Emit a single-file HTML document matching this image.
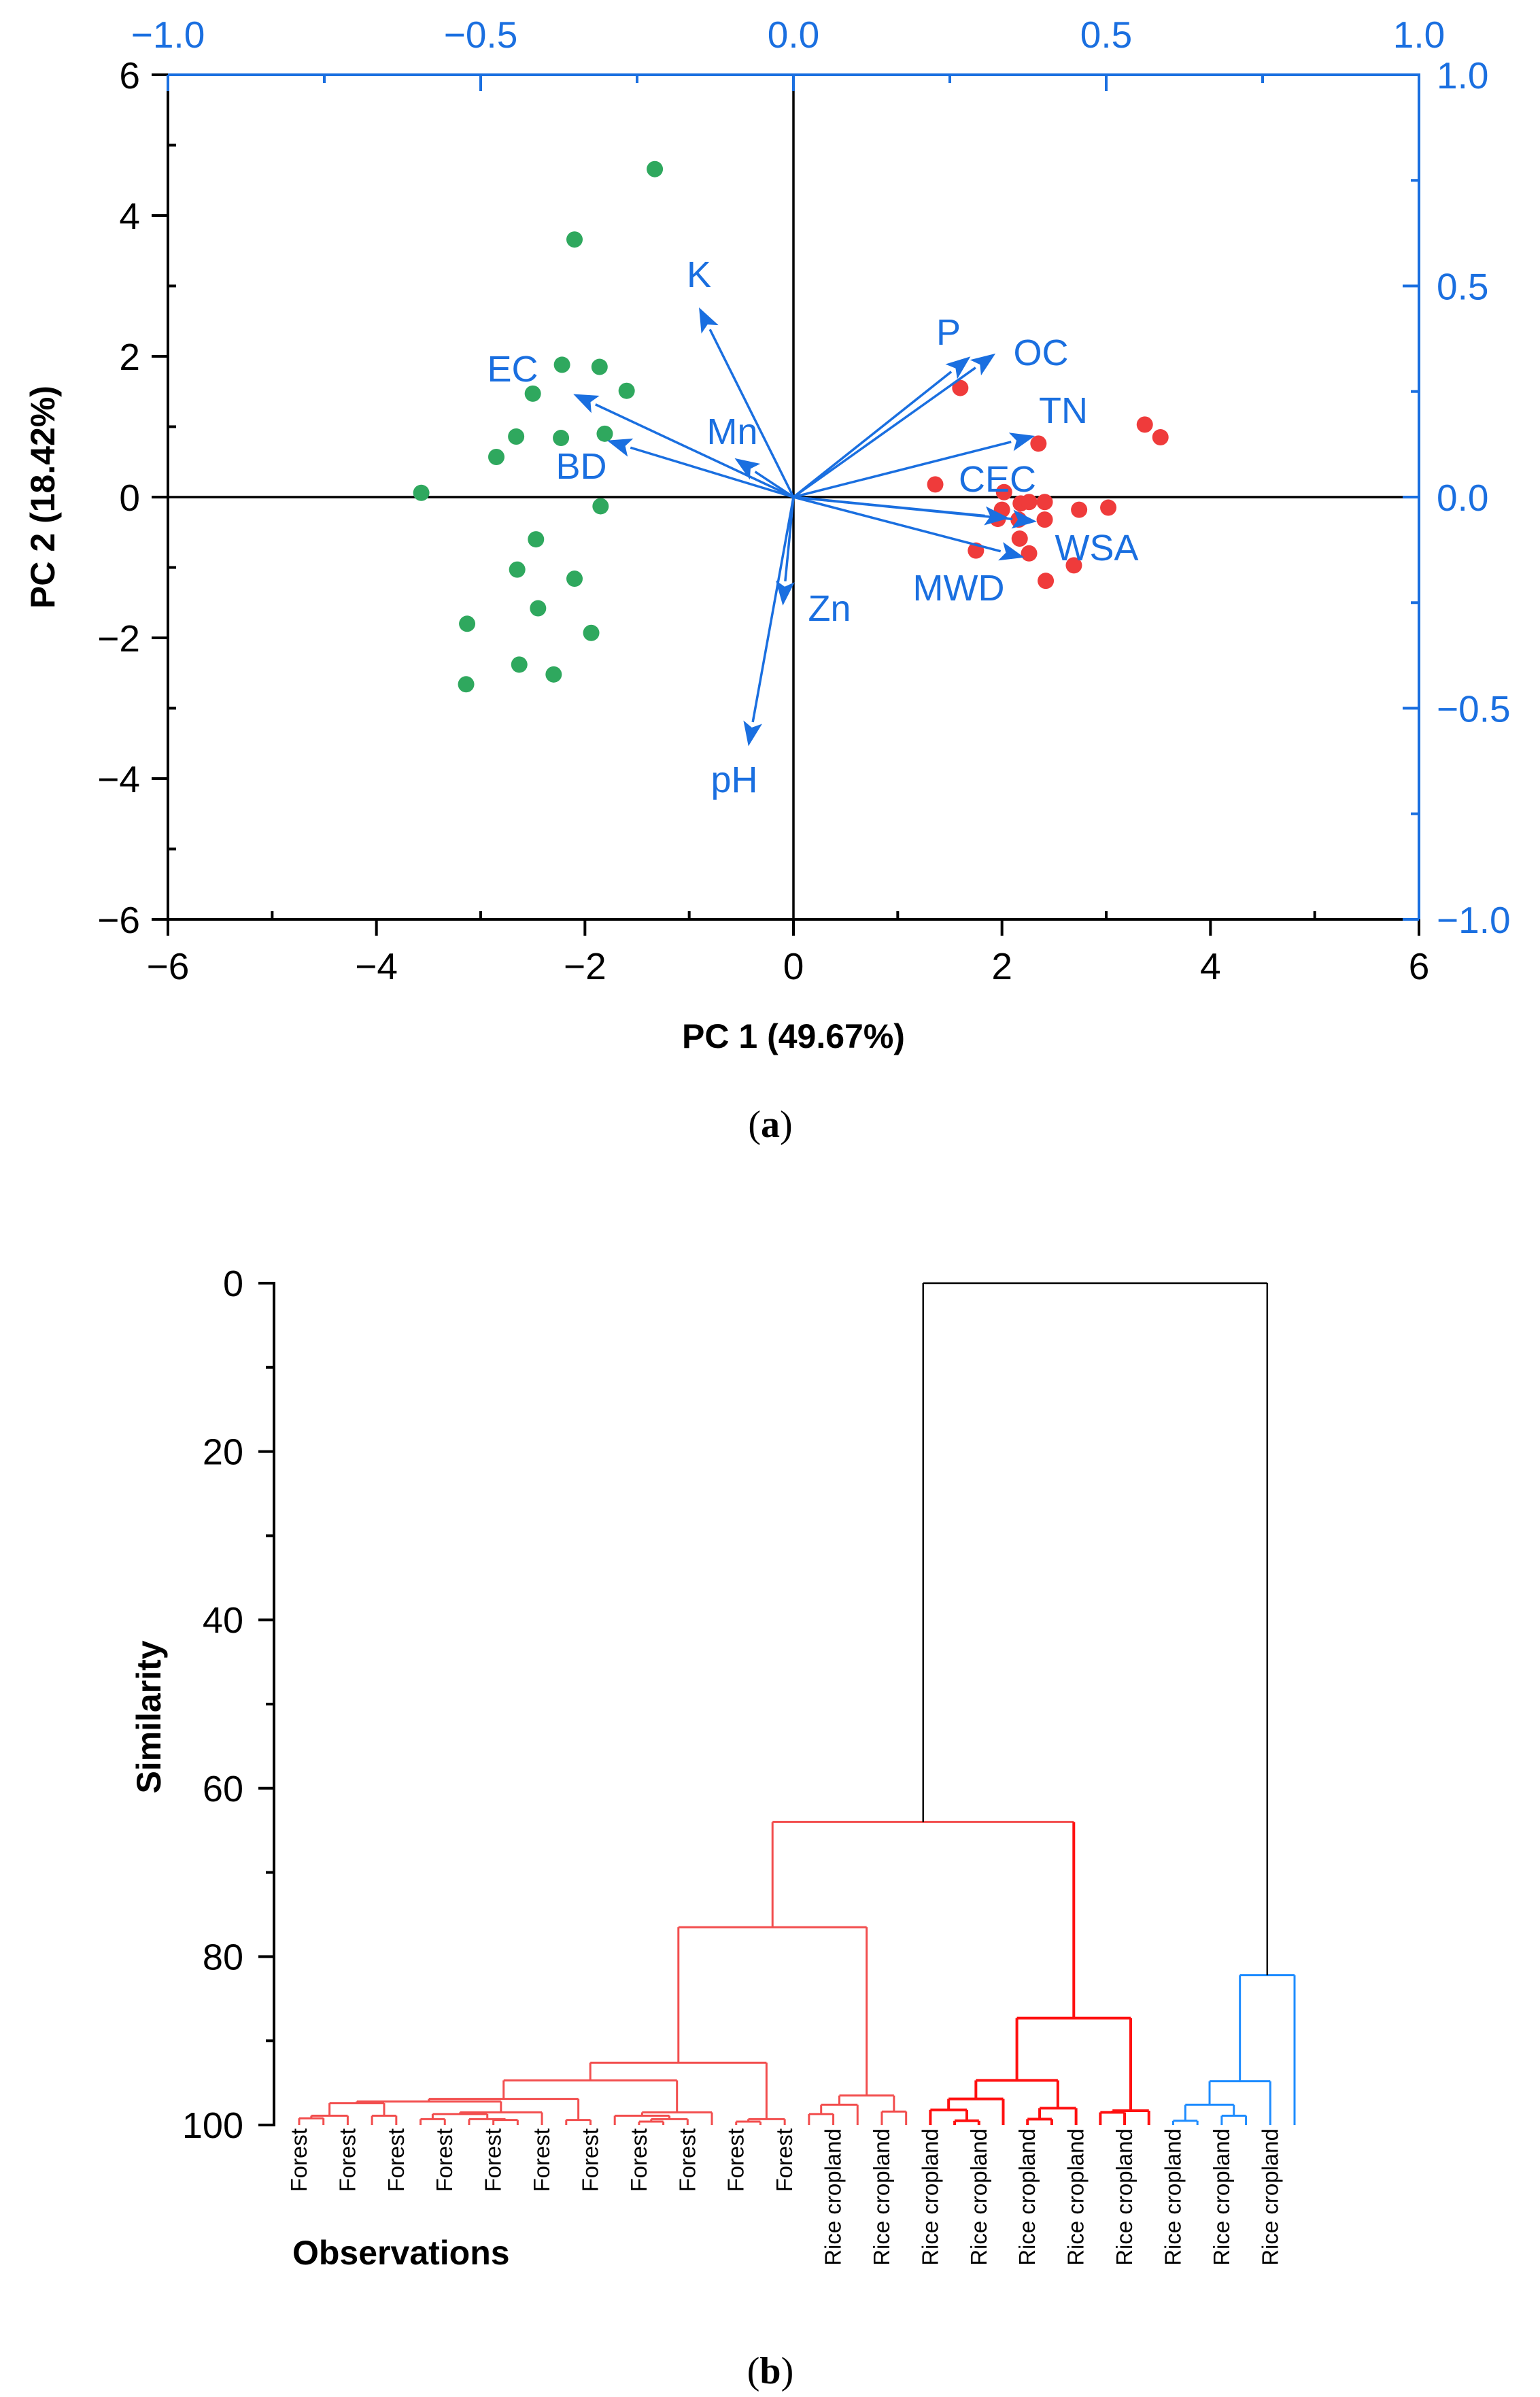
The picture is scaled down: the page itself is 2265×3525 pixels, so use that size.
<!DOCTYPE html>
<html><head><meta charset="utf-8"><style>
html,body{margin:0;padding:0;background:#fff;}
svg{display:block;font-family:"Liberation Sans",sans-serif;}
</style></head><body>
<svg id="fig" width="2265" height="3525" viewBox="0 0 2265 3525" xmlns="http://www.w3.org/2000/svg">
<rect width="2265" height="3525" fill="#fff"/>
<g id="pca"></g>
<g id="dendro"></g>
<text x="1133" y="1672" font-family="Liberation Serif,serif" font-size="56" text-anchor="middle">(<tspan font-weight="bold">a</tspan>)</text>
<text x="1133" y="3505" font-family="Liberation Serif,serif" font-size="56" text-anchor="middle">(<tspan font-weight="bold">b</tspan>)</text>
</svg>
<script>
const NS='http://www.w3.org/2000/svg';
// ---------- PCA data ----------
const forestPC1=[-1.33,-2.10,-2.22,-1.86,-1.60,-2.50,-2.66,-2.23,-1.81,-2.85,-3.57,-1.85,-2.47,-2.65,-2.10,-2.45,-3.13,-1.94,-2.63,-2.30,-3.14];
const forestPC2=[4.66,3.66,1.88,1.85,1.51,1.47,0.86,0.84,0.90,0.57,0.06,-0.13,-0.60,-1.03,-1.16,-1.58,-1.80,-1.93,-2.38,-2.52,-2.66];
const ricePC1=[1.60,3.37,3.52,2.35,1.36,2.02,2.18,2.26,2.41,2.00,1.96,2.16,2.41,2.74,3.02,2.17,1.75,2.26,2.69,2.42];
const ricePC2=[1.55,1.03,0.85,0.76,0.18,0.07,-0.09,-0.07,-0.07,-0.18,-0.31,-0.32,-0.32,-0.18,-0.15,-0.59,-0.76,-0.80,-0.97,-1.19];
const varNames=['K','EC','BD','Mn','P','OC','TN','CEC','WSA','MWD','Zn','pH'];
const load1=[-0.151,-0.352,-0.298,-0.094,0.283,0.323,0.386,0.345,0.389,0.369,-0.017,-0.072];
const load2=[0.449,0.244,0.134,0.092,0.333,0.340,0.145,-0.050,-0.058,-0.143,-0.257,-0.590];
const pcTicks=[-6,-4,-2,0,2,4,6];
const loadTicks=[-1.0,-0.5,0.0,0.5,1.0];
// ---------- Dendrogram data ----------
const leafLabels=['Forest','Rice cropland'];
const nLeaves=42;
const mergeA=[0,42,3,43,5,8,7,46,49,45,11,51,14,54,13,56,53,18,59,58,21,62,24,63,61,27,26,68,30,70,69,33,73,72,66,36,38,77,79,80,76];
const mergeB=[1,2,4,44,6,9,47,48,10,50,12,52,15,16,55,17,57,19,20,60,22,23,25,64,65,28,67,29,31,32,71,34,35,74,75,37,39,78,40,41,81];
const mergeSim=[99.2,98.9,98.9,97.4,99.3,99.4,99.3,98.7,98.5,97.2,99.4,96.9,99.6,99.3,98.9,98.5,94.7,99.6,99.3,92.6,98.7,97.6,98.4,96.5,76.5,99.5,98.2,96.9,99.3,98.0,94.7,98.5,98.3,87.3,64.0,99.5,98.9,97.6,94.8,82.2,0];
const simTicks=[0,20,40,60,80,100];

function el(tag,attrs,parent){const e=document.createElementNS(NS,tag);for(const k in attrs)e.setAttribute(k,attrs[k]);parent.appendChild(e);return e;}
const BLUE='#1a6fe0';
// ---------- PCA ----------
const g=document.getElementById('pca');
const L=247,R=2087,T=110,B=1352;
const xs=v=>L+(v+6)/12*(R-L);
const ys=v=>B-(v+6)/12*(B-T);
const lx=v=>L+(v+1)/2*(R-L);
const ly=v=>B-(v+1)/2*(B-T);
let e;
e=el('line',{x1:L,x2:R,y1:ys(0),y2:ys(0),stroke:'#000','stroke-width':3.5},g);

e=el('line',{x1:xs(0),x2:xs(0),y1:T,y2:B,stroke:'#000','stroke-width':3.5},g);

e=el('line',{x1:L,x2:L,y1:T,y2:B+1.5,stroke:'#000','stroke-width':4},g);

e=el('line',{x1:L-2,x2:R,y1:B,y2:B,stroke:'#000','stroke-width':4},g);

e=el('line',{x1:L-2,x2:R+2,y1:T,y2:T,stroke:BLUE,'stroke-width':4},g);

e=el('line',{x1:R,x2:R,y1:T,y2:B,stroke:BLUE,'stroke-width':4},g);

for(let v=-6;v<=6;v++){
  const major=v%2===0;
  e=el('line',{x1:xs(v),x2:xs(v),y1:major?B:B-12,y2:major?B+24:B,stroke:'#000','stroke-width':4},g);
  
  e=el('line',{x1:major?L-24:L,x2:major?L:L+12,y1:ys(v),y2:ys(v),stroke:'#000','stroke-width':4},g);
  
}
pcTicks.forEach(v=>{
  const s=v<0?'\u2212'+Math.abs(v):String(v);
  e=el('text',{x:xs(v),y:1440,'font-size':55,'text-anchor':'middle'},g);e.textContent=s;
  
  e=el('text',{x:206,y:ys(v)+20,'font-size':55,'text-anchor':'end'},g);e.textContent=s;
  
});
for(let i=0;i<=8;i++){
  const v=-1+i*0.25, major=i%2===0;
  e=el('line',{x1:lx(v),x2:lx(v),y1:T,y2:T+(major?24:12),stroke:BLUE,'stroke-width':4},g);
  
  e=el('line',{x1:R-(major?24:12),x2:R,y1:ly(v),y2:ly(v),stroke:BLUE,'stroke-width':4},g);
  
}
loadTicks.forEach(v=>{
  const s=(v<0?'\u2212':'')+Math.abs(v).toFixed(1);
  e=el('text',{x:lx(v),y:70,'font-size':55,'text-anchor':'middle',fill:BLUE},g);e.textContent=s;
  
  e=el('text',{x:2113,y:ly(v)+20,'font-size':55,'text-anchor':'start',fill:BLUE},g);e.textContent=s;
  
});
forestPC1.forEach((v,i)=>{
  e=el('circle',{cx:xs(v),cy:ys(forestPC2[i]),r:12,fill:'#2fa85e'},g);
  
});
ricePC1.forEach((v,i)=>{
  e=el('circle',{cx:xs(v),cy:ys(ricePC2[i]),r:12,fill:'#ef3b3b'},g);
  
});
const labelPos=[[1028,403],[754,542],[855,685],[1077,634],[1395,488],[1531,518],[1564,603],[1467,704],[1613,805],[1410,864],[1220,894],[1080,1146]];
const ox=lx(0),oy=ly(0);
varNames.forEach((n,i)=>{
  const tx=lx(load1[i]),ty=ly(load2[i]);
  const dx=tx-ox,dy=ty-oy,len=Math.hypot(dx,dy),ux=dx/len,uy=dy/len;
  const hl=36,hw=14,bx=tx-ux*hl,by=ty-uy*hl;
  e=el('line',{x1:ox,y1:oy,x2:bx,y2:by,stroke:BLUE,'stroke-width':3.5},g);
  
  e=el('polygon',{points:`${tx},${ty} ${bx-uy*hw},${by+ux*hw} ${bx+ux*8},${by+uy*8} ${bx+uy*hw},${by-ux*hw}`,fill:BLUE},g);
  
  e=el('text',{x:labelPos[i][0],y:labelPos[i][1]+19,'font-size':54,'text-anchor':'middle',fill:BLUE},g);e.textContent=n;
  
});
e=el('text',{x:1167,y:1541,'font-size':50,'font-weight':'bold','text-anchor':'middle'},g);e.textContent='PC 1 (49.67%)';

e=el('text',{x:0,y:0,'font-size':50,'font-weight':'bold','text-anchor':'middle',transform:'translate(80,731) rotate(-90)'},g);e.textContent='PC 2 (18.42%)';


// ---------- Dendrogram ----------
const d=document.getElementById('dendro');
const DY0=1887,DY1=3125,AX=403;
const sy=s=>DY0+s/100*(DY1-DY0);
const leafX=i=>440+i*(1904-440)/(nLeaves-1);
e=el('line',{x1:AX,x2:AX,y1:DY0-2,y2:DY1+2,stroke:'#000','stroke-width':4},d);

for(let s=0;s<=100;s+=10){
  const major=s%20===0;
  e=el('line',{x1:major?AX-23:AX-12,x2:AX,y1:sy(s),y2:sy(s),stroke:'#000','stroke-width':4},d);
  
}
simTicks.forEach(s=>{
  e=el('text',{x:358,y:sy(s)+19,'font-size':54,'text-anchor':'end'},d);e.textContent=String(s);
  
});
e=el('text',{x:0,y:0,'font-size':50,'font-weight':'bold','text-anchor':'middle',transform:'translate(236,2525) rotate(-90)'},d);e.textContent='Similarity';

e=el('text',{x:430,y:3330,'font-size':50,'font-weight':'bold'},d);e.textContent='Observations';

const nx=[],nh=[];
for(let i=0;i<nLeaves;i++){nx[i]=leafX(i);nh[i]=100;}
mergeA.forEach((a,k)=>{const id=nLeaves+k;nx[id]=(nx[a]+nx[mergeB[k]])/2;nh[id]=mergeSim[k];});
const LIGHT='#f24e4e',BRIGHT='#ff1010',DB='#1e8cff';
function colorOf(id){
  if(id===82)return '#000';
  if(id>=77&&id<=81)return DB;
  if(id>=67&&id<=75)return BRIGHT;
  return LIGHT;
}
function widthOf(c){return c===BRIGHT?4:(c==='#000'?2.5:3);}
mergeA.forEach((a,k)=>{
  const id=nLeaves+k,b=mergeB[k],c=colorOf(id);
  e=el('line',{x1:nx[a],x2:nx[b],y1:sy(nh[id]),y2:sy(nh[id]),stroke:c,'stroke-width':widthOf(c)},d);
  
  [a,b].forEach(ch=>{
    let vc=c;
    if(id===76&&ch>=nLeaves)vc=colorOf(ch);
    e=el('line',{x1:nx[ch],x2:nx[ch],y1:sy(nh[ch]),y2:sy(nh[id]),stroke:vc,'stroke-width':widthOf(vc)},d);
    
  });
});
for(let i=0;i<nLeaves;i++){
  let lab=null;
  if(i<=20&&i%2===0)lab=leafLabels[0];
  if(i>=22&&i%2===0)lab=leafLabels[1];
  if(!lab)continue;
  e=el('text',{x:0,y:0,'font-size':33,'text-anchor':'end',transform:`translate(${leafX(i)+11},3130) rotate(-90)`},d);
  e.textContent=lab;
  
}
</script>
</body></html>
